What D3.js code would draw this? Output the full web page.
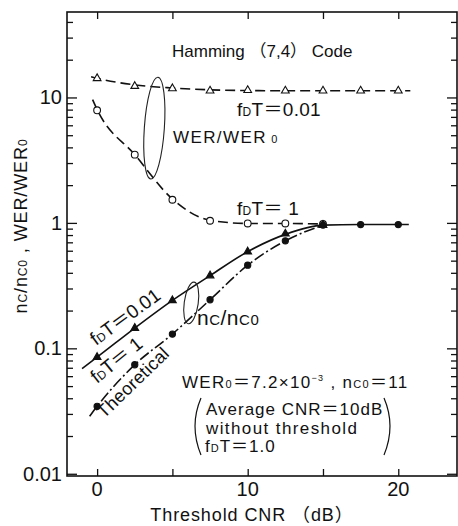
<!DOCTYPE html>
<html>
<head>
<meta charset="utf-8">
<script src="https://cdn.jsdelivr.net/npm/d3@7"></script>
<style>
  body { margin: 0; background: #fff; }
  svg { display: block; }
  text { font-family: "Liberation Sans", Arial, "Noto Sans CJK JP", sans-serif; fill: #111; }
  .num { font-family: "Liberation Sans Narrow", "Arial Narrow", "Liberation Sans", sans-serif; }
</style>
</head>
<body>
<div id="chart"></div>
<script>
// Threshold CNR (dB) where the measurements were taken
let snrDb = [0, 2.5, 5, 7.5, 10, 12.5, 15, 17.5, 20];

// WER/WER0, fDT = 0.01 (open triangles) and fDT = 1 (open circles)
let werSlow = [14.2, 12.3, 11.8, 11.3, 11.4, 11.3, 11.3, 11.3, 11.3];
let werFast = [7.9, 3.5, 1.53, 1.04, 0.99, 0.99, 0.98];

// nc/nc0, fDT = 0.01 (filled triangles) and fDT = 1 (filled circles)
let ncSlow = [0.085, 0.145, 0.241, 0.38, 0.59, 0.82, 0.96];
let ncFast = [0.0345, 0.074, 0.13, 0.244, 0.46, 0.72, 0.96, 0.97, 0.97];

// fitted curves as drawn (x in dB, y value)
let werSlowCurveX = [-0.4, 0, 2.5, 5, 7.5, 10, 12.5, 15, 17.5, 20, 20.8];
let werSlowCurveY = [14.6, 14.2, 12.6, 11.9, 11.5, 11.35, 11.3, 11.3, 11.3, 11.3, 11.3];
let werFastCurveX = [-0.3, 0, 2.5, 5, 7.5, 10, 12.5, 15];
let werFastCurveY = [9.6, 8.0, 3.5, 1.55, 1.05, 0.99, 0.99, 0.98];
let ncSlowCurveX = [-1, 0, 2.5, 5, 7.5, 10, 12.5, 15, 17.5, 20, 20.7];
let ncSlowCurveY = [0.069, 0.085, 0.145, 0.241, 0.38, 0.59, 0.81, 0.96, 0.97, 0.97, 0.97];
let theoryCurveX = [-0.5, 0, 2.5, 5, 7.5, 10, 12.5, 15];
let theoryCurveY = [0.0287, 0.0345, 0.074, 0.13, 0.244, 0.46, 0.72, 0.96];

// axis ticks
let xTicks = [0, 5, 10, 15, 20];
let xTickLabels = [0, 10, 20];
let yTicks = [0.01, 0.1, 1, 10];
let yTickLabels = ["0.01", "0.1", "1", "10"];

let width = 458, height = 526;
let margin = {left: 67, right: 1, top: 12, bottom: 50};

let svg = d3.select("#chart")
  .append("svg")
  .attr("width", width)
  .attr("height", height);

let x = d3.scaleLinear()
  .domain([-2, 23.9])
  .range([margin.left, width - margin.right]);

let y = d3.scaleLog()
  .domain([0.0096, 48])
  .range([height - margin.bottom, margin.top]);

let x0 = x.range()[0], x1 = x.range()[1];
let y0 = y.range()[0], y1 = y.range()[1];

// minor log ticks 2..9 for each decade
let yMinor = [];
[0.01, 0.1, 1, 10].forEach(function (d) {
  for (let k = 2; k <= 9; k++) {
    let v = d * k;
    if (v < 48) yMinor.push(v);
  }
});

function addAxis(axis, tx, ty) {
  let g = svg.append("g")
    .attr("transform", "translate(" + tx + "," + ty + ")")
    .call(axis);
  g.select(".domain").remove();
  g.selectAll("line").attr("stroke", "#111").attr("stroke-width", 1.3);
  return g;
}

// left and right y ticks, pointing inside
addAxis(d3.axisLeft(y).tickValues(yTicks).tickSize(-10).tickFormat(""), x0, 0);
addAxis(d3.axisLeft(y).tickValues(yMinor).tickSize(-6).tickFormat(""), x0, 0);
addAxis(d3.axisRight(y).tickValues(yTicks).tickSize(-10).tickFormat(""), x1, 0);
addAxis(d3.axisRight(y).tickValues(yMinor).tickSize(-6).tickFormat(""), x1, 0);

// top and bottom x ticks, pointing inside
addAxis(d3.axisTop(x).tickValues(xTicks).tickSize(-7).tickFormat(""), 0, y1);
addAxis(d3.axisBottom(x).tickValues(xTicks).tickSize(-7).tickFormat(""), 0, y0);

// frame
svg.append("rect")
  .attr("x", x0).attr("y", y1)
  .attr("width", x1 - x0).attr("height", y0 - y1)
  .attr("fill", "none")
  .attr("stroke", "#111")
  .attr("stroke-width", 1.6);

// tick labels
svg.selectAll(".ylab")
  .data(yTicks)
  .enter().append("text")
  .attr("class", "num")
  .attr("x", x0 - 5)
  .attr("y", function (d) { return y(d) + 7; })
  .attr("text-anchor", "end")
  .style("font-size", "20px")
  .text(function (d, i) { return yTickLabels[i]; });

svg.selectAll(".xlab")
  .data(xTickLabels)
  .enter().append("text")
  .attr("class", "num")
  .attr("x", function (d) { return x(d); })
  .attr("y", y0 + 20)
  .attr("text-anchor", "middle")
  .style("font-size", "20px")
  .text(function (d) { return d; });

// curves
let line = d3.line()
  .x(function (d) { return x(d[0]); })
  .y(function (d) { return y(d[1]); })
  .curve(d3.curveMonotoneX);

function drawCurve(xs, ys, dash) {
  svg.append("path")
    .datum(d3.zip(xs, ys))
    .attr("d", line)
    .attr("fill", "none")
    .attr("stroke", "#111")
    .attr("stroke-width", 1.6)
    .attr("stroke-dasharray", dash);
}

drawCurve(werSlowCurveX, werSlowCurveY, "10,5");
drawCurve(werFastCurveX, werFastCurveY, "10,5");
drawCurve(ncSlowCurveX, ncSlowCurveY, null);
drawCurve(theoryCurveX, theoryCurveY, "11,3,2,3");

// markers
let tri = d3.symbol().type(d3.symbolTriangle).size(26);

function drawMarkers(values, shape, filled) {
  let pts = values.map(function (v, i) { return [snrDb[i], v]; });
  let sel = svg.append("g").selectAll("path")
    .data(pts)
    .enter().append("path")
    .attr("transform", function (d) { return "translate(" + x(d[0]) + "," + y(d[1]) + ")"; })
    .attr("fill", filled ? "#111" : "#fff")
    .attr("stroke", "#111")
    .attr("stroke-width", 1.1);
  if (shape === "tri") sel.attr("d", tri);
  else sel.attr("d", d3.symbol().type(d3.symbolCircle).size(filled ? 30 : 36));
}

drawMarkers(werSlow, "tri", false);
drawMarkers(werFast, "circle", false);
drawMarkers(ncSlow, "tri", true);
drawMarkers(ncFast, "circle", true);

// ellipse brackets
function bracket(cx, cy, rx, ry, rot) {
  svg.append("ellipse")
    .attr("cx", 0).attr("cy", 0)
    .attr("rx", rx).attr("ry", ry)
    .attr("transform", "translate(" + x(cx) + "," + y(cy) + ") rotate(" + rot + ")")
    .attr("fill", "none")
    .attr("stroke", "#222")
    .attr("stroke-width", 1.1);
}
bracket(3.8, 5.7, 10, 51, 4);
bracket(6.25, 0.23, 7, 21, 8);

// rich text helper: parts are [text, kind] where kind is "" | "sub" | "sup" | "after"
function rich(xp, yp, parts, size, opts) {
  opts = opts || {};
  let sub = opts.sub || 0.62;
  let t = svg.append("text")
    .attr("x", xp).attr("y", yp)
    .style("font-size", size + "px")
    .style("letter-spacing", (opts.ls || 0) + "px");
  if (opts.rot) t.attr("transform", "rotate(" + opts.rot + "," + xp + "," + yp + ")");
  if (opts.anchor) t.attr("text-anchor", opts.anchor);
  parts.forEach(function (p) {
    let s = t.append("tspan").text(p[0]);
    if (p[1] === "sub") s.style("font-size", Math.round(size * sub) + "px");
    if (p[1] === "sup") s.style("font-size", Math.round(size * 0.55) + "px").attr("dy", -7);
    if (p[1] === "after") s.attr("dy", 7);
  });
  return t;
}

rich(172, 57, [["Hamming （7,4） Code", ""]], 17);
rich(237, 116, [["f", ""], ["D", "sub"], ["T＝0.01", ""]], 19, {ls: 0.3});
rich(173, 143, [["WER/WER", ""], [" 0", "sub"]], 17, {ls: 1.4});
rich(237, 215, [["f", ""], ["D", "sub"], ["T＝ 1", ""]], 19, {ls: 0.3});

rich(96, 346, [["f", ""], ["D", "sub"], ["T＝0.01", ""]], 19, {rot: -36});
rich(97, 384, [["f", ""], ["D", "sub"], ["T＝ 1", ""]], 19, {rot: -39});
rich(104, 419, [["Theoretical", ""]], 18, {rot: -44, ls: 0.3});
rich(197, 325, [["n", ""], ["C", "sub"], ["/n", ""], ["C0", "sub"]], 21, {sub: 0.7, ls: 0.5});

rich(182, 388, [["WER", ""], ["0", "sub"], ["＝7.2×10", ""], ["−3", "sup"], [" , n", "after"], ["C0", "sub"], ["＝11", ""]], 17, {ls: 1.3});
rich(206, 415, [["Average CNR＝10dB", ""]], 17, {ls: 1.0});
rich(206, 434, [["without threshold", ""]], 17, {ls: 1.4});
rich(205, 452, [["f", ""], ["D", "sub"], ["T＝1.0", ""]], 17, {ls: 1.0});

// big parentheses round the note
svg.append("path")
  .attr("d", "M201,398 Q189,426 201,455")
  .attr("fill", "none").attr("stroke", "#111").attr("stroke-width", 1.2);
svg.append("path")
  .attr("d", "M384,398 Q396,426 384,455")
  .attr("fill", "none").attr("stroke", "#111").attr("stroke-width", 1.2);

// axis titles
svg.append("text")
  .attr("x", 252).attr("y", 521)
  .attr("text-anchor", "middle")
  .style("font-size", "18px")
  .style("letter-spacing", "0.9px")
  .text("Threshold CNR （dB）");

rich(27, 226, [["n", ""], ["C", "sub"], ["/n", ""], ["C0", "sub"], [" , WER/WER", ""], ["0", "sub"]], 18,
  {rot: -90, anchor: "middle", ls: 0.9, sub: 0.68});
</script>
</body>
</html>
